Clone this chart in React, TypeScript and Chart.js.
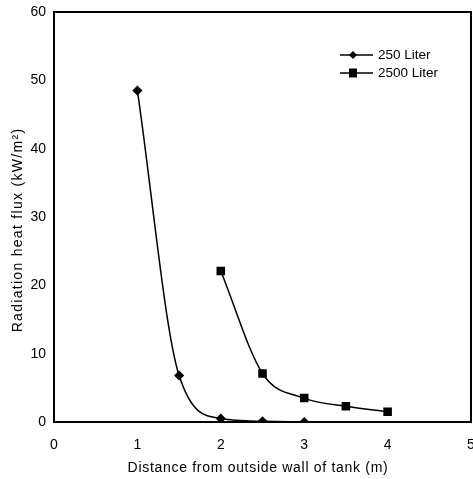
import React, { useEffect, useRef } from "react";
import { Chart, registerables } from "chart.js";

Chart.register(...registerables);

const distances250 = [1, 1.5, 2, 2.5, 3];
const flux250 = [48.5, 6.8, 0.5, 0.1, 0];
const distances2500 = [2, 2.5, 3, 3.5, 4];
const flux2500 = [22.1, 7.1, 3.5, 2.3, 1.5];
const seriesNames = ["250 Liter", "2500 Liter"];
const xTitle = "Distance from outside wall of tank (m)";
const yTitle = "Radiation heat flux (kW/m²)";

const FONT = "'Liberation Sans', Arial, Helvetica, sans-serif";

const frameAndLegend = {
  id: "frameAndLegend",
  afterDatasetsDraw(chart: any) {
    const { ctx, chartArea } = chart;
    ctx.save();
    ctx.strokeStyle = "#000";
    ctx.lineWidth = 2;
    ctx.strokeRect(chartArea.left, chartArea.top, chartArea.right - chartArea.left, chartArea.bottom - chartArea.top);
    // y title
    ctx.save();
    ctx.translate(18, (chartArea.top + chartArea.bottom) / 2 + 13);
    ctx.rotate(-Math.PI / 2);
    ctx.font = `14px ${FONT}`;
    (ctx as any).letterSpacing = "1.3px";
    ctx.fillStyle = "#000";
    ctx.textAlign = "center";
    ctx.textBaseline = "middle";
    ctx.fillText(yTitle, 0, 0);
    ctx.restore();
    // x title
    ctx.save();
    ctx.font = `14px ${FONT}`;
    (ctx as any).letterSpacing = "0.7px";
    ctx.fillStyle = "#000";
    ctx.textAlign = "center";
    ctx.textBaseline = "middle";
    ctx.fillText(xTitle, chartArea.left + 204, chartArea.bottom + 46);
    ctx.restore();
    // legend
    const items = [
      { label: seriesNames[0], style: "diamond", y: chartArea.top + 43 },
      { label: seriesNames[1], style: "square", y: chartArea.top + 61 },
    ];
    const x0 = chartArea.left + 286;
    for (const it of items) {
      ctx.lineWidth = 1.5;
      ctx.beginPath();
      ctx.moveTo(x0, it.y);
      ctx.lineTo(x0 + 33, it.y);
      ctx.stroke();
      ctx.fillStyle = "#000";
      const cx = x0 + 13;
      if (it.style === "diamond") {
        ctx.beginPath();
        ctx.moveTo(cx, it.y - 4);
        ctx.lineTo(cx + 4, it.y);
        ctx.lineTo(cx, it.y + 4);
        ctx.lineTo(cx - 4, it.y);
        ctx.closePath();
        ctx.fill();
      } else {
        ctx.fillRect(cx - 4, it.y - 4.5, 8, 9);
      }
      ctx.font = `13.5px ${FONT}`;
      ctx.textBaseline = "middle";
      ctx.textAlign = "left";
      ctx.fillText(it.label, x0 + 38, it.y);
    }
    ctx.restore();
  },
};

export default function App() {
  const ref = useRef<HTMLCanvasElement>(null);
  useEffect(() => {
    document.body.style.margin = "0";
    const chart = new Chart(ref.current!, {
      type: "scatter",
      data: {
        datasets: [
          {
            label: seriesNames[0],
            data: distances250.map((x, i) => ({ x, y: flux250[i] })),
            showLine: true,
            borderColor: "#000",
            backgroundColor: "#000",
            borderWidth: 1.5,
            pointStyle: "rectRot",
            pointRadius: 4,
            cubicInterpolationMode: "monotone",
          },
          {
            label: seriesNames[1],
            data: distances2500.map((x, i) => ({ x, y: flux2500[i] })),
            showLine: true,
            borderColor: "#000",
            backgroundColor: "#000",
            borderWidth: 1.5,
            pointStyle: "rect",
            pointRadius: 5,
            cubicInterpolationMode: "monotone",
          },
        ],
      },
      options: {
        animation: false,
        responsive: false,
        layout: { autoPadding: false, padding: { top: 12, right: 2, left: 0, bottom: 0 } },
        plugins: { legend: { display: false }, tooltip: { enabled: false } },
        scales: {
          x: {
            type: "linear",
            min: 0,
            max: 5,
            grid: { display: false, drawTicks: false },
            border: { display: true, color: "#000", width: 2 },
            ticks: { stepSize: 1, color: "#000", font: { family: FONT, size: 14 }, padding: 15 },
            title: { display: false },
            afterFit: (s: any) => {
              s.height = 57;
              s.paddingLeft = 0;
              s.paddingRight = 0;
              if (s._margins) { s._margins.left = 0; s._margins.right = 0; }
            },
          },
          y: {
            min: 0,
            max: 60,
            grid: { display: false, drawTicks: false },
            border: { display: true, color: "#000", width: 2 },
            ticks: { stepSize: 10, color: "#000", font: { family: FONT, size: 14 }, padding: 8 },
            title: { display: false },
            afterFit: (s: any) => {
              s.width = 54;
              s.paddingTop = 0;
              s.paddingBottom = 0;
              if (s._margins) { s._margins.top = 0; s._margins.bottom = 0; }
            },
          },
        },
      },
      plugins: [frameAndLegend],
    } as any);
    return () => chart.destroy();
  }, []);
  return (
    <div style={{ width: 473, height: 479 }}>
      <canvas ref={ref} width={473} height={479} style={{ display: "block" }} />
    </div>
  );
}
